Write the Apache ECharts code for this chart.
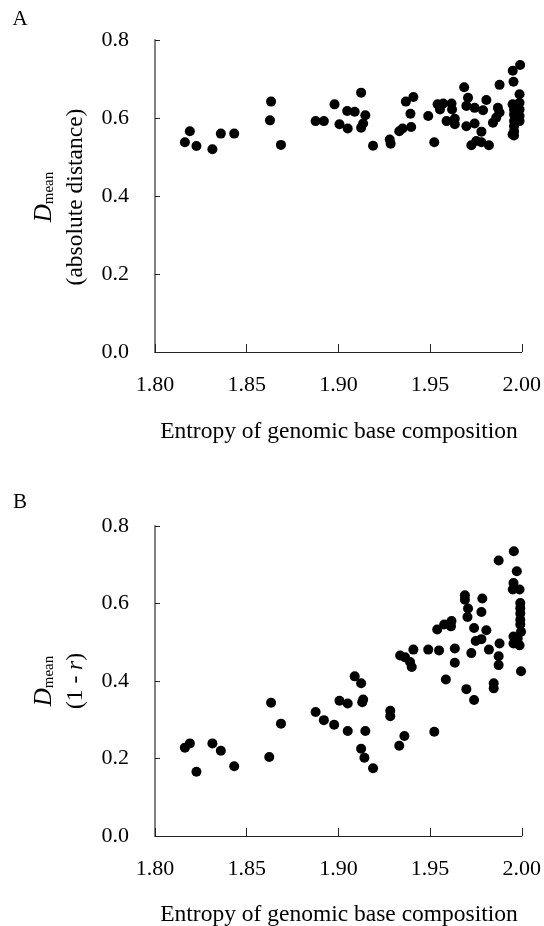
<!DOCTYPE html>
<html>
<head>
<meta charset="utf-8">
<script src="https://cdn.jsdelivr.net/npm/echarts@6/dist/echarts.min.js"></script>
<style>
html,body{margin:0;padding:0;background:#fff;}
#chart{width:544px;height:926px;}
</style>
</head>
<body>
<div id="chart"></div>
<script>
// Panel A: D_mean (absolute distance) vs entropy
var xA = [1.8163,1.8190,1.8226,1.8313,1.8359,1.8432,1.8633,1.8627,1.8687,1.8876,1.8921,1.8979,1.9006,1.9048,1.9089,1.9124,1.9147,1.9051,1.9124,1.9135,1.9189,1.9280,1.9285,1.9332,1.9350,1.9397,1.9368,1.9409,1.9393,1.9490,1.9523,1.9541,1.9572,1.9617,1.9554,1.9590,1.9620,1.9635,1.9635,1.9686,1.9707,1.9698,1.9743,1.9789,1.9807,1.9698,1.9743,1.9780,1.9725,1.9752,1.9780,1.9821,1.9879,1.9870,1.9879,1.9861,1.9843,1.9951,1.9991,1.9955,1.9988,1.9950,1.9988,1.9958,1.9988,1.9958,1.9988,1.9958,1.9988,1.9958,1.9958,1.9958,1.9950];
var yA = [0.538,0.566,0.528,0.520,0.560,0.560,0.642,0.594,0.531,0.592,0.592,0.635,0.584,0.618,0.616,0.665,0.607,0.573,0.575,0.586,0.529,0.545,0.534,0.566,0.573,0.577,0.642,0.654,0.611,0.605,0.538,0.635,0.637,0.637,0.622,0.592,0.622,0.598,0.584,0.679,0.652,0.631,0.626,0.620,0.646,0.579,0.586,0.565,0.530,0.541,0.538,0.530,0.685,0.626,0.614,0.601,0.588,0.721,0.736,0.693,0.661,0.635,0.639,0.622,0.622,0.609,0.605,0.592,0.592,0.579,0.566,0.555,0.558];
// Panel B: D_mean (1 - r) vs entropy
var xB = [1.8163,1.8190,1.8226,1.8313,1.8359,1.8432,1.8633,1.8687,1.8623,1.8876,1.8921,1.8977,1.9006,1.9051,1.9051,1.9089,1.9124,1.9135,1.9130,1.9147,1.9124,1.9142,1.9189,1.9283,1.9283,1.9360,1.9332,1.9523,1.9337,1.9364,1.9391,1.9400,1.9409,1.9490,1.9549,1.9635,1.9635,1.9586,1.9539,1.9577,1.9617,1.9614,1.9690,1.9690,1.9707,1.9704,1.9785,1.9780,1.9740,1.9807,1.9749,1.9780,1.9725,1.9821,1.9879,1.9874,1.9874,1.9698,1.9740,1.9847,1.9847,1.9874,1.9957,1.9973,1.9955,1.9951,1.9988,1.9992,1.9992,1.9992,1.9992,1.9992,1.9955,1.9978,1.9996,1.9955,1.9988,1.9996];
var yB = [0.228,0.239,0.166,0.239,0.220,0.180,0.344,0.290,0.204,0.320,0.299,0.287,0.349,0.342,0.271,0.412,0.394,0.352,0.345,0.271,0.225,0.202,0.175,0.323,0.309,0.258,0.233,0.269,0.466,0.461,0.449,0.436,0.481,0.481,0.479,0.484,0.447,0.404,0.533,0.546,0.555,0.541,0.621,0.610,0.587,0.565,0.613,0.578,0.537,0.531,0.503,0.508,0.472,0.481,0.497,0.464,0.441,0.379,0.351,0.394,0.381,0.711,0.735,0.683,0.653,0.636,0.636,0.601,0.588,0.574,0.558,0.546,0.515,0.510,0.527,0.497,0.492,0.425];
var xTicks = ['1.80','1.85','1.90','1.95','2.00'];
var yTicks = ['0.0','0.2','0.4','0.6','0.8'];

function pairs(xs, ys){ return xs.map(function(x,i){ return [x, ys[i]]; }); }

var SERIF = '"Liberation Serif","Times New Roman",serif';
function xAxisCfg(idx){
  return {
    gridIndex: idx, type: 'value', min: 1.8, max: 2.0, interval: 0.05,
    axisLine: {show: true, onZero: false, lineStyle: {color: '#222', width: 1}},
    axisTick: {show: true, inside: true, length: 8, lineStyle: {color: '#222', width: 1}},
    axisLabel: {margin: 22, fontFamily: SERIF, fontSize: 22, color: '#000',
      formatter: function(v){ return v.toFixed(2); }},
    splitLine: {show: false}
  };
}
function yAxisCfg(idx){
  return {
    gridIndex: idx, type: 'value', min: 0, max: 0.8, interval: 0.2,
    axisLine: {show: true, lineStyle: {color: '#808080', width: 2}},
    axisTick: {show: true, inside: true, length: 5, lineStyle: {color: '#222', width: 1}},
    axisLabel: {margin: 26, fontFamily: SERIF, fontSize: 22, color: '#000',
      formatter: function(v){ return v.toFixed(1); }},
    splitLine: {show: false}
  };
}
var richD = {
  d: {fontFamily: SERIF, fontSize: 25, fontStyle: 'italic', color: '#000', lineHeight: 25},
  sub: {fontFamily: SERIF, fontSize: 15, color: '#000', lineHeight: 25, verticalAlign: 'bottom', padding: [8,0,0,0]},
  n: {fontFamily: SERIF, fontSize: 23.5, color: '#000'},
  i: {fontFamily: SERIF, fontSize: 23.5, color: '#000', fontStyle: 'italic'}
};
function vtext(x, y, t){
  return {type: 'text', x: x, y: y, rotation: Math.PI/2,
    style: {text: t, rich: richD, align: 'center', verticalAlign: 'middle', fill: '#000', font: '23.5px ' + SERIF}};
}
function htext(x, y, t, size){
  return {type: 'text', x: x, y: y,
    style: {text: t, align: 'center', verticalAlign: 'middle', fill: '#000', font: size + 'px ' + SERIF}};
}

var chart = echarts.init(document.getElementById('chart'), null, {renderer: 'canvas'});
chart.setOption({
  backgroundColor: '#fff',
  animation: false,
  grid: [
    {left: 155, top: 40, width: 369, height: 312},
    {left: 155, top: 526, width: 369, height: 310}
  ],
  xAxis: [xAxisCfg(0), xAxisCfg(1)],
  yAxis: [yAxisCfg(0), yAxisCfg(1)],
  series: [
    {type: 'scatter', xAxisIndex: 0, yAxisIndex: 0, data: pairs(xA, yA), symbolSize: 10, itemStyle: {color: '#000', opacity: 1}},
    {type: 'scatter', xAxisIndex: 1, yAxisIndex: 1, data: pairs(xB, yB), symbolSize: 10, itemStyle: {color: '#000', opacity: 1}}
  ],
  graphic: [
    htext(20, 19, 'A', 21),
    htext(20, 502, 'B', 21),
    vtext(44, 197, '{d|D}{sub|mean}'),
    vtext(76, 197, '{n|(absolute distance)}'),
    vtext(44, 681, '{d|D}{sub|mean}'),
    vtext(76, 681, '{n|(1 - }{i|r}{n|)}'),
    htext(339, 432, 'Entropy of genomic base composition', 23.5),
    htext(339, 915, 'Entropy of genomic base composition', 23.5)
  ]
});
</script>
</body>
</html>
